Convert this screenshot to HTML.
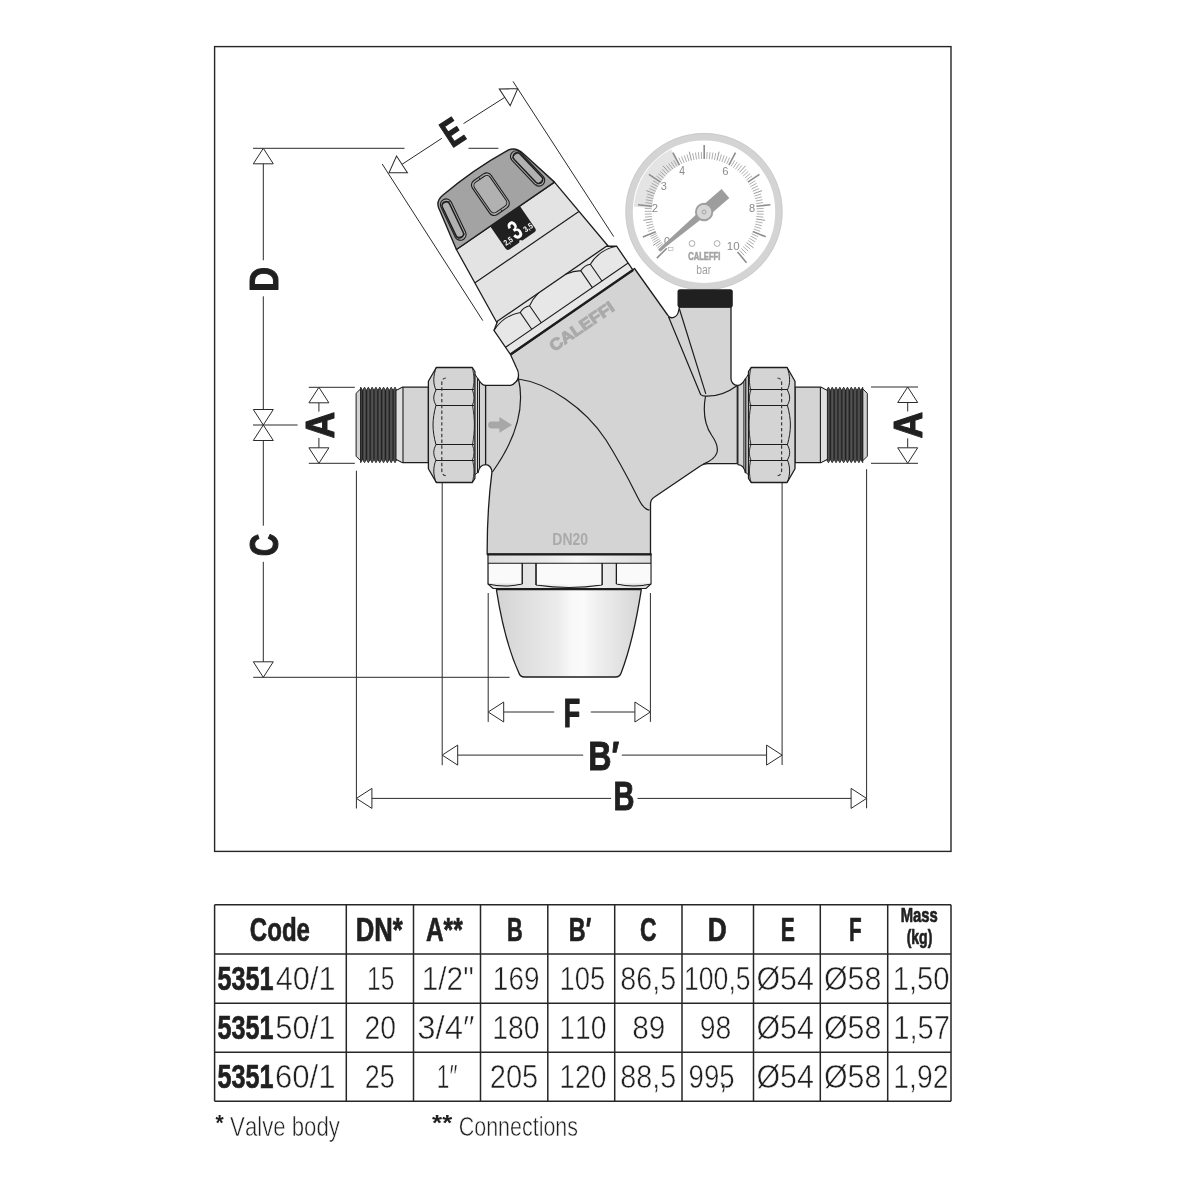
<!DOCTYPE html>
<html><head><meta charset="utf-8"><style>
html,body{margin:0;padding:0;background:#fff;}
svg{display:block;filter:grayscale(100%);font-family:"Liberation Sans",sans-serif;font-kerning:none;}
text{paint-order:fill;}
</style></head><body>
<svg width="1181" height="1181" viewBox="0 0 1181 1181">
<rect width="1181" height="1181" fill="#fff"/>
<rect x="214.6" y="46.6" width="736.4" height="804.8" fill="none" stroke="#262626" stroke-width="1.4"/>
<circle cx="704.0" cy="211.7" r="74.9" fill="#fff" stroke="#d3d4d5" stroke-width="7.4"/>
<circle cx="704.0" cy="211.7" r="78.2" fill="none" stroke="#c4c5c6" stroke-width="0.6"/>
<path d="M633.85,206.81 A70.5,70.5 0 0 1 670.99,149.21 L679.47,165.09 A52.5,52.5 0 0 0 651.81,207.98Z" fill="#e4e4e6"/>
<g stroke="#8c8d8f"><line x1="666.82" y1="248.26" x2="656.85" y2="258.09" stroke-width="1.6"/><line x1="665.44" y1="246.81" x2="660.27" y2="251.53" stroke-width="0.7"/><line x1="664.11" y1="245.30" x2="658.77" y2="249.82" stroke-width="0.7"/><line x1="662.85" y1="243.74" x2="657.33" y2="248.06" stroke-width="0.7"/><line x1="661.64" y1="242.14" x2="655.97" y2="246.24" stroke-width="0.7"/><line x1="660.50" y1="240.49" x2="653.01" y2="245.48" stroke-width="0.9"/><line x1="659.42" y1="238.80" x2="653.45" y2="242.45" stroke-width="0.7"/><line x1="658.40" y1="237.07" x2="652.30" y2="240.49" stroke-width="0.7"/><line x1="657.46" y1="235.30" x2="651.22" y2="238.49" stroke-width="0.7"/><line x1="656.58" y1="233.50" x2="650.23" y2="236.44" stroke-width="0.7"/><line x1="655.77" y1="231.66" x2="642.85" y2="237.06" stroke-width="1.6"/><line x1="654.74" y1="229.00" x2="648.14" y2="231.35" stroke-width="0.7"/><line x1="653.94" y1="226.56" x2="647.23" y2="228.58" stroke-width="0.7"/><line x1="653.25" y1="224.07" x2="646.46" y2="225.76" stroke-width="0.7"/><line x1="652.69" y1="221.56" x2="645.83" y2="222.92" stroke-width="0.7"/><line x1="652.26" y1="219.02" x2="643.35" y2="220.33" stroke-width="0.9"/><line x1="651.95" y1="216.47" x2="644.98" y2="217.14" stroke-width="0.7"/><line x1="651.76" y1="213.90" x2="644.77" y2="214.23" stroke-width="0.7"/><line x1="651.70" y1="211.33" x2="644.70" y2="211.32" stroke-width="0.7"/><line x1="651.77" y1="208.75" x2="644.78" y2="208.40" stroke-width="0.7"/><line x1="651.96" y1="206.19" x2="638.03" y2="204.80" stroke-width="1.6"/><line x1="652.28" y1="203.63" x2="645.36" y2="202.60" stroke-width="0.7"/><line x1="652.72" y1="201.09" x2="645.86" y2="199.72" stroke-width="0.7"/><line x1="653.29" y1="198.58" x2="646.50" y2="196.87" stroke-width="0.7"/><line x1="653.98" y1="196.10" x2="647.28" y2="194.06" stroke-width="0.7"/><line x1="654.79" y1="193.66" x2="646.32" y2="190.62" stroke-width="0.9"/><line x1="655.72" y1="191.26" x2="649.25" y2="188.57" stroke-width="0.7"/><line x1="656.76" y1="188.91" x2="650.44" y2="185.91" stroke-width="0.7"/><line x1="657.92" y1="186.61" x2="651.75" y2="183.30" stroke-width="0.7"/><line x1="659.19" y1="184.37" x2="653.19" y2="180.76" stroke-width="0.7"/><line x1="660.57" y1="182.19" x2="648.94" y2="174.41" stroke-width="1.6"/><line x1="662.06" y1="180.09" x2="656.44" y2="175.92" stroke-width="0.7"/><line x1="663.64" y1="178.06" x2="658.24" y2="173.62" stroke-width="0.7"/><line x1="665.33" y1="176.11" x2="660.14" y2="171.41" stroke-width="0.7"/><line x1="667.10" y1="174.25" x2="662.16" y2="169.30" stroke-width="0.7"/><line x1="668.97" y1="172.48" x2="662.93" y2="165.80" stroke-width="0.9"/><line x1="670.92" y1="170.80" x2="666.48" y2="165.38" stroke-width="0.7"/><line x1="672.95" y1="169.21" x2="668.78" y2="163.59" stroke-width="0.7"/><line x1="675.06" y1="167.73" x2="671.17" y2="161.91" stroke-width="0.7"/><line x1="677.23" y1="166.36" x2="673.64" y2="160.35" stroke-width="0.7"/><line x1="679.47" y1="165.09" x2="672.88" y2="152.74" stroke-width="1.6"/><line x1="681.77" y1="163.93" x2="678.78" y2="157.60" stroke-width="0.7"/><line x1="684.13" y1="162.89" x2="681.45" y2="156.42" stroke-width="0.7"/><line x1="686.53" y1="161.96" x2="684.17" y2="155.37" stroke-width="0.7"/><line x1="688.97" y1="161.16" x2="686.94" y2="154.46" stroke-width="0.7"/><line x1="691.45" y1="160.47" x2="689.27" y2="151.74" stroke-width="0.9"/><line x1="693.97" y1="159.91" x2="692.60" y2="153.04" stroke-width="0.7"/><line x1="696.50" y1="159.47" x2="695.48" y2="152.54" stroke-width="0.7"/><line x1="699.06" y1="159.15" x2="698.37" y2="152.19" stroke-width="0.7"/><line x1="701.63" y1="158.96" x2="701.28" y2="151.97" stroke-width="0.7"/><line x1="704.20" y1="158.90" x2="704.20" y2="144.90" stroke-width="1.6"/><line x1="706.77" y1="158.96" x2="707.12" y2="151.97" stroke-width="0.7"/><line x1="709.34" y1="159.15" x2="710.03" y2="152.19" stroke-width="0.7"/><line x1="711.90" y1="159.47" x2="712.92" y2="152.54" stroke-width="0.7"/><line x1="714.43" y1="159.91" x2="715.80" y2="153.04" stroke-width="0.7"/><line x1="716.95" y1="160.47" x2="719.13" y2="151.74" stroke-width="0.9"/><line x1="719.43" y1="161.16" x2="721.46" y2="154.46" stroke-width="0.7"/><line x1="721.87" y1="161.96" x2="724.23" y2="155.37" stroke-width="0.7"/><line x1="724.27" y1="162.89" x2="726.95" y2="156.42" stroke-width="0.7"/><line x1="726.63" y1="163.93" x2="729.62" y2="157.60" stroke-width="0.7"/><line x1="728.93" y1="165.09" x2="735.52" y2="152.74" stroke-width="1.6"/><line x1="731.17" y1="166.36" x2="734.76" y2="160.35" stroke-width="0.7"/><line x1="733.34" y1="167.73" x2="737.23" y2="161.91" stroke-width="0.7"/><line x1="735.45" y1="169.21" x2="739.62" y2="163.59" stroke-width="0.7"/><line x1="737.48" y1="170.80" x2="741.92" y2="165.38" stroke-width="0.7"/><line x1="739.43" y1="172.48" x2="745.47" y2="165.80" stroke-width="0.9"/><line x1="741.30" y1="174.25" x2="746.24" y2="169.30" stroke-width="0.7"/><line x1="743.07" y1="176.11" x2="748.26" y2="171.41" stroke-width="0.7"/><line x1="744.76" y1="178.06" x2="750.16" y2="173.62" stroke-width="0.7"/><line x1="746.34" y1="180.09" x2="751.96" y2="175.92" stroke-width="0.7"/><line x1="747.83" y1="182.19" x2="759.46" y2="174.41" stroke-width="1.6"/><line x1="749.21" y1="184.37" x2="755.21" y2="180.76" stroke-width="0.7"/><line x1="750.48" y1="186.61" x2="756.65" y2="183.30" stroke-width="0.7"/><line x1="751.64" y1="188.91" x2="757.96" y2="185.91" stroke-width="0.7"/><line x1="752.68" y1="191.26" x2="759.15" y2="188.57" stroke-width="0.7"/><line x1="753.61" y1="193.66" x2="762.08" y2="190.62" stroke-width="0.9"/><line x1="754.42" y1="196.10" x2="761.12" y2="194.06" stroke-width="0.7"/><line x1="755.11" y1="198.58" x2="761.90" y2="196.87" stroke-width="0.7"/><line x1="755.68" y1="201.09" x2="762.54" y2="199.72" stroke-width="0.7"/><line x1="756.12" y1="203.63" x2="763.04" y2="202.60" stroke-width="0.7"/><line x1="756.44" y1="206.19" x2="770.37" y2="204.80" stroke-width="1.6"/><line x1="756.63" y1="208.75" x2="763.62" y2="208.40" stroke-width="0.7"/><line x1="756.70" y1="211.33" x2="763.70" y2="211.32" stroke-width="0.7"/><line x1="756.64" y1="213.90" x2="763.63" y2="214.23" stroke-width="0.7"/><line x1="756.45" y1="216.47" x2="763.42" y2="217.14" stroke-width="0.7"/><line x1="756.14" y1="219.02" x2="765.05" y2="220.33" stroke-width="0.9"/><line x1="755.71" y1="221.56" x2="762.57" y2="222.92" stroke-width="0.7"/><line x1="755.15" y1="224.07" x2="761.94" y2="225.76" stroke-width="0.7"/><line x1="754.46" y1="226.56" x2="761.17" y2="228.58" stroke-width="0.7"/><line x1="753.66" y1="229.00" x2="760.26" y2="231.35" stroke-width="0.7"/><line x1="752.74" y1="231.41" x2="765.68" y2="236.74" stroke-width="1.6"/><line x1="751.70" y1="233.76" x2="758.03" y2="236.74" stroke-width="0.7"/><line x1="750.55" y1="236.06" x2="756.73" y2="239.35" stroke-width="0.7"/><line x1="749.28" y1="238.31" x2="755.29" y2="241.89" stroke-width="0.7"/><line x1="747.91" y1="240.48" x2="753.74" y2="244.36" stroke-width="0.7"/><line x1="746.43" y1="242.59" x2="753.67" y2="247.94" stroke-width="0.9"/><line x1="744.85" y1="244.62" x2="750.27" y2="249.05" stroke-width="0.7"/><line x1="743.17" y1="246.58" x2="748.37" y2="251.27" stroke-width="0.7"/><line x1="741.40" y1="248.45" x2="746.36" y2="253.38" stroke-width="0.7"/><line x1="739.54" y1="250.22" x2="744.25" y2="255.40" stroke-width="0.7"/><line x1="737.59" y1="251.91" x2="746.50" y2="262.71" stroke-width="1.6"/></g>
<text transform="translate(663.98,244.99) scale(0.9392,1)" font-size="11.58" font-weight="normal" fill="#8a8b8d" >0</text>
<text transform="translate(651.83,211.70) scale(0.9719,1)" font-size="11.74" font-weight="normal" fill="#8a8b8d" >2</text>
<text transform="translate(660.68,190.29) scale(0.9470,1)" font-size="11.58" font-weight="normal" fill="#8a8b8d" >3</text>
<text transform="translate(679.16,175.10) scale(0.8658,1)" font-size="11.92" font-weight="normal" fill="#8a8b8d" >4</text>
<text transform="translate(722.33,174.99) scale(0.9730,1)" font-size="11.58" font-weight="normal" fill="#8a8b8d" >6</text>
<text transform="translate(749.12,211.59) scale(0.9568,1)" font-size="11.58" font-weight="normal" fill="#8a8b8d" >8</text>
<text transform="translate(726.77,250.29) scale(0.9959,1)" font-size="11.58" font-weight="normal" fill="#8a8b8d" >10</text>
<circle cx="692" cy="243.5" r="2.9" fill="none" stroke="#8a8b8d" stroke-width="0.7"/>
<circle cx="717.1" cy="243.5" r="2.9" fill="none" stroke="#8a8b8d" stroke-width="0.7"/>
<rect x="668.5" y="247.5" width="4.5" height="3" fill="none" stroke="#9a9b9d" stroke-width="0.5"/>
<text transform="translate(688.19,259.90) scale(0.7611,1)" font-size="10.03" font-weight="bold" fill="#a3a4a6" stroke="#a3a4a6" stroke-width="0.6" stroke-linejoin="round" >CALEFFI</text>
<text transform="translate(696.33,273.58) scale(0.8341,1)" font-size="12.39" font-weight="normal" fill="#a0a1a3" >bar</text>
<path d="M658.1,249.5 L659.9,251.6 L705,216.2 L700.6,210.6 Z" fill="#9c9d9f"/>
<path d="M700,207.8 L721.6,189.1 L729.3,197.9 L708,216.5 Z" fill="#9c9d9f"/>
<circle cx="704.1" cy="212" r="8.2" fill="#d5d6d8" stroke="#9d9ea0" stroke-width="1.9"/>
<circle cx="704.1" cy="212" r="2" fill="none" stroke="#8e8f91" stroke-width="0.7"/>
<path d="M510.7,354.9 L516.6,368 C519.5,373 519,380 515.7,382 C514,384 512.5,385 510.5,385.4 L485.6,385.4 L485.6,464.6 C489,464.6 491.9,467.8 491.9,472.3 C489,495 487,525 487.2,554.4 L650.5,554.4 L650.5,504 C650.5,500 652,498.5 654.5,497 L701,465.5 C703,464 705,463.6 708,463.6 L737.3,463.6 L737.3,385.4 C733.5,385.4 731,382 731,378.5 L731,307 L679.5,307 L678.6,311 C677.5,317.5 670.5,320 667.6,315 L634.5,268.5 Z" fill="#d3d4d6" stroke="#1d1d1d" stroke-width="1.3" stroke-linejoin="round"/>
<path d="M518.3,379 C548,383 585,408 606,440 C616,456 628,478 636,494 C640,502 643.5,509.5 649.5,510.2 M518.3,378 C524,402 521,432 492.4,472 M668.5,316.8 L700.7,394.7 M679.5,309.2 L705.8,393.9 M700.7,394.7 C702,396 704,396.2 706,396.2 C717,396.5 729,391.5 737.3,385.4 M705.6,395.5 C703,410 704,424 711.5,435 C722,450 718,458 703.4,464.1" fill="none" stroke="#1d1d1d" stroke-width="1.2"/>
<path d="M491.5,421.5 L499.4,421.5 L499.4,417.1 L512,424.9 L499.4,432.7 L499.4,428.4 L491.5,428.4 A3.45,3.45 0 0 1 491.5,421.5 Z" fill="#a6a7a9"/>
<text transform="translate(552.37,544.84) scale(0.8310,1)" font-size="16.81" font-weight="bold" fill="#a9aaac" >DN20</text>
<rect x="677.5" y="289.3" width="55.3" height="18.3" rx="2.5" fill="#231f20"/>
<defs><linearGradient id="bowl" x1="496" y1="0" x2="641" y2="0" gradientUnits="userSpaceOnUse"><stop offset="0" stop-color="#d3d3d5"/><stop offset="0.2" stop-color="#dfdfe1"/><stop offset="0.42" stop-color="#ebebec"/><stop offset="0.52" stop-color="#f8f8f8"/><stop offset="0.6" stop-color="#fbfbfb"/><stop offset="0.7" stop-color="#efefef"/><stop offset="0.86" stop-color="#e2e2e4"/><stop offset="1" stop-color="#d5d5d7"/></linearGradient><linearGradient id="nutg" x1="488" y1="0" x2="651" y2="0" gradientUnits="userSpaceOnUse"><stop offset="0" stop-color="#dedee0"/><stop offset="0.3" stop-color="#e6e6e8"/><stop offset="0.55" stop-color="#f7f7f7"/><stop offset="0.75" stop-color="#e8e8ea"/><stop offset="1" stop-color="#dcdcde"/></linearGradient></defs>
<path d="M496.4,589.6 L641.3,589.6 Q633.3,641 621.3,672.5 Q620,677 615.5,677 L524.5,677 Q520,677 518.7,672.5 Q504.4,641 496.4,589.6 Z" fill="url(#bowl)" stroke="#1d1d1d" stroke-width="1.3" stroke-linejoin="round"/>
<path d="M488,554.4 L651,554.4 L651,584 L646,588.5 L493,588.5 L488,584 Z" fill="url(#nutg)" stroke="#1d1d1d" stroke-width="1.2"/>
<path d="M488,563.2 H651 M522.2,563.2 V584 M536,563.2 V585 M602.1,563.2 V585 M616.4,563.2 V584 M488,584 Q505,588 522.2,584 M536,585 Q569,590 602.1,585 M616.4,584 Q634,588 651,584" fill="none" stroke="#1d1d1d" stroke-width="1.1"/>
<rect x="489" y="564" width="32.5" height="19.5" fill="#fafafa"/><rect x="537" y="564" width="64.5" height="20.5" fill="#fafafa"/><rect x="617.2" y="564" width="33" height="19.5" fill="#fafafa"/>
<path d="M522.2,563.2 V584 M536,563.2 V585 M602.1,563.2 V585 M616.4,563.2 V584" fill="none" stroke="#1d1d1d" stroke-width="1.1"/>
<line x1="487.2" y1="554.4" x2="651.6" y2="554.4" stroke="#1d1d1d" stroke-width="2.2"/>
<path d="M356.1,393.3 L360.7,388.8 L360.7,460.8 L356.1,456.2 Z" fill="#d2d2d4" stroke="#1d1d1d" stroke-width="1"/><path d="M360.7,390.6 L360.70,387.2 L362.60,390.6 L364.51,387.2 L366.41,390.6 L368.32,387.2 L370.22,390.6 L372.13,387.2 L374.03,390.6 L375.94,387.2 L377.84,390.6 L379.75,387.2 L381.65,390.6 L383.56,387.2 L385.46,390.6 L387.37,387.2 L389.27,390.6 L391.18,387.2 L393.08,390.6 L394.99,387.2 L396.89,390.6 L396.2,390.6 L396.2,459.3 L396.89,459.3 L394.99,462.7 L393.08,459.3 L391.18,462.7 L389.27,459.3 L387.37,462.7 L385.46,459.3 L383.56,462.7 L381.65,459.3 L379.75,462.7 L377.84,459.3 L375.94,462.7 L374.03,459.3 L372.13,462.7 L370.22,459.3 L368.32,462.7 L366.41,459.3 L364.51,462.7 L362.60,459.3 L360.70,462.7 L360.7,459.3 Z" fill="#444446" stroke="#1d1d1d" stroke-width="0.9" stroke-linejoin="round"/><path d="M362.60,390.6V459.3M366.41,390.6V459.3M370.22,390.6V459.3M374.03,390.6V459.3M377.84,390.6V459.3M381.65,390.6V459.3M385.46,390.6V459.3M389.27,390.6V459.3M393.08,390.6V459.3M396.89,390.6V459.3" stroke="#1f1f20" stroke-width="1"/><path d="M364.51,388V462M368.32,388V462M372.13,388V462M375.94,388V462M379.75,388V462M383.56,388V462M387.37,388V462M391.18,388V462M394.99,388V462" stroke="#5a5a5c" stroke-width="0.8"/><path d="M396.2,390.6 L402.6,387.2 L428.4,387.2 L428.4,462.7 L402.6,462.7 L396.2,459.3 Z" fill="#d3d4d6" stroke="#1d1d1d" stroke-width="1.2"/><path d="M396.6,390.8 L402.6,387.8 L402.6,462 L396.6,459 Z" fill="#dfdfe1"/><line x1="403" y1="387.2" x2="403" y2="462.7" stroke="#1d1d1d" stroke-width="1.1"/><path d="M477.5,378.2 C479.5,380.5 481,385.2 485.5,385.4 L485.5,464.6 C481.8,464.8 478.9,468 478.2,472.6 L477.5,472.6 Z" fill="#d3d4d6" stroke="#1d1d1d" stroke-width="1.1" stroke-linejoin="round"/><path d="M474.5,373.5 L477.5,378.2 L477.5,472.6 L474.5,475 Z" fill="#d6d7d9" stroke="#1d1d1d" stroke-width="1"/><line x1="479.5" y1="381.5" x2="479.5" y2="468.5" stroke="#1d1d1d" stroke-width="1"/><path d="M428.4,381.2 L436.3,367.5 L472.3,367.5 L474.9,371.5 L474.9,478.3 L472.3,482.5 L436.3,482.5 L428.4,468.8 Z" fill="#d3d4d6" stroke="#1d1d1d" stroke-width="1.3" stroke-linejoin="round"/><path d="M436,389.5 H474 M436,405.5 H474 M436,444.5 H474 M436,460.5 H474" stroke="#1d1d1d" stroke-width="1.1"/><path d="M436.3,367.2 C433,376 433,384 436,390 C433,396 433,400 436,405.2 C432,420 432,430 436,444.8 C433,450 433,455 436,460 C433,467 433,475 436.3,482.6" fill="none" stroke="#1d1d1d" stroke-width="1"/><path d="M472.3,367.5 C474.5,376 474.5,384 472.5,390 C474.5,396 474.5,400 472.5,405.2 C475,420 475,430 472.5,444.8 C474.5,450 474.5,455 472.5,460 C474.5,467 474.5,475 472.3,482.3" fill="none" stroke="#1d1d1d" stroke-width="0.9"/><path d="M446,378 C443,378 441.8,380 441.8,383 L441.8,470.5 C441.8,473.5 443,475.5 446,475.8" fill="none" stroke="#3a3a3c" stroke-width="1.2" stroke-dasharray="3.4,2.4"/>
<g transform="translate(1223.4,0) scale(-1,1)"><path d="M356.1,393.3 L360.7,388.8 L360.7,460.8 L356.1,456.2 Z" fill="#d2d2d4" stroke="#1d1d1d" stroke-width="1"/><path d="M360.7,390.6 L360.70,387.2 L362.60,390.6 L364.51,387.2 L366.41,390.6 L368.32,387.2 L370.22,390.6 L372.13,387.2 L374.03,390.6 L375.94,387.2 L377.84,390.6 L379.75,387.2 L381.65,390.6 L383.56,387.2 L385.46,390.6 L387.37,387.2 L389.27,390.6 L391.18,387.2 L393.08,390.6 L394.99,387.2 L396.89,390.6 L396.2,390.6 L396.2,459.3 L396.89,459.3 L394.99,462.7 L393.08,459.3 L391.18,462.7 L389.27,459.3 L387.37,462.7 L385.46,459.3 L383.56,462.7 L381.65,459.3 L379.75,462.7 L377.84,459.3 L375.94,462.7 L374.03,459.3 L372.13,462.7 L370.22,459.3 L368.32,462.7 L366.41,459.3 L364.51,462.7 L362.60,459.3 L360.70,462.7 L360.7,459.3 Z" fill="#444446" stroke="#1d1d1d" stroke-width="0.9" stroke-linejoin="round"/><path d="M362.60,390.6V459.3M366.41,390.6V459.3M370.22,390.6V459.3M374.03,390.6V459.3M377.84,390.6V459.3M381.65,390.6V459.3M385.46,390.6V459.3M389.27,390.6V459.3M393.08,390.6V459.3M396.89,390.6V459.3" stroke="#1f1f20" stroke-width="1"/><path d="M364.51,388V462M368.32,388V462M372.13,388V462M375.94,388V462M379.75,388V462M383.56,388V462M387.37,388V462M391.18,388V462M394.99,388V462" stroke="#5a5a5c" stroke-width="0.8"/><path d="M396.2,390.6 L402.6,387.2 L428.4,387.2 L428.4,462.7 L402.6,462.7 L396.2,459.3 Z" fill="#d3d4d6" stroke="#1d1d1d" stroke-width="1.2"/><path d="M396.6,390.8 L402.6,387.8 L402.6,462 L396.6,459 Z" fill="#dfdfe1"/><line x1="403" y1="387.2" x2="403" y2="462.7" stroke="#1d1d1d" stroke-width="1.1"/><path d="M477.5,378.2 C479.5,380.5 481,385.2 485.5,385.4 L485.5,464.6 C481.8,464.8 478.9,468 478.2,472.6 L477.5,472.6 Z" fill="#d3d4d6" stroke="#1d1d1d" stroke-width="1.1" stroke-linejoin="round"/><path d="M474.5,373.5 L477.5,378.2 L477.5,472.6 L474.5,475 Z" fill="#d6d7d9" stroke="#1d1d1d" stroke-width="1"/><line x1="479.5" y1="381.5" x2="479.5" y2="468.5" stroke="#1d1d1d" stroke-width="1"/><path d="M428.4,381.2 L436.3,367.5 L472.3,367.5 L474.9,371.5 L474.9,478.3 L472.3,482.5 L436.3,482.5 L428.4,468.8 Z" fill="#d3d4d6" stroke="#1d1d1d" stroke-width="1.3" stroke-linejoin="round"/><path d="M436,389.5 H474 M436,405.5 H474 M436,444.5 H474 M436,460.5 H474" stroke="#1d1d1d" stroke-width="1.1"/><path d="M436.3,367.2 C433,376 433,384 436,390 C433,396 433,400 436,405.2 C432,420 432,430 436,444.8 C433,450 433,455 436,460 C433,467 433,475 436.3,482.6" fill="none" stroke="#1d1d1d" stroke-width="1"/><path d="M472.3,367.5 C474.5,376 474.5,384 472.5,390 C474.5,396 474.5,400 472.5,405.2 C475,420 475,430 472.5,444.8 C474.5,450 474.5,455 472.5,460 C474.5,467 474.5,475 472.3,482.3" fill="none" stroke="#1d1d1d" stroke-width="0.9"/><path d="M446,378 C443,378 441.8,380 441.8,383 L441.8,470.5 C441.8,473.5 443,475.5 446,475.8" fill="none" stroke="#3a3a3c" stroke-width="1.2" stroke-dasharray="3.4,2.4"/></g>
<g transform="translate(571.7,312.25) rotate(-34.5)"><path d="M-59.5,-117 L59.5,-117 L67.5,-34 L-67.5,-34 Z" fill="#e3e3e5" stroke="#1d1d1d" stroke-width="1.3" stroke-linejoin="round"/><line x1="-63" y1="-79" x2="63" y2="-79" stroke="#1d1d1d" stroke-width="1.2"/><path d="M-59.5,-117 L-51,-159 Q-50,-168.5 -40,-169.5 Q0,-173.5 38,-169.8 Q47.5,-169 50,-158 L59.5,-117 Z" fill="#a2a3a6" stroke="#1d1d1d" stroke-width="1.4" stroke-linejoin="round"/><g transform="translate(-45.10,-143.50) rotate(9.04)"><rect x="-5.75" y="-22.276669409945463" width="11.5" height="44.553338819890925" rx="5.75" fill="#a9aaad" stroke="#1d1d1d" stroke-width="1.1"/><rect x="-4.45" y="-19.67666940994546" width="7.9" height="39.35333881989092" rx="3.95" fill="#b0b1b4" stroke="#1d1d1d" stroke-width="1.5"/><path d="M-4.75,-17.776669409945463 Q0,-20.076669409945463 4.75,-17.776669409945463 M-4.75,17.776669409945463 Q0,20.076669409945463 4.75,17.776669409945463" fill="none" stroke="#1d1d1d" stroke-width="0.7"/></g><g transform="translate(45.10,-143.50) rotate(-9.04)"><rect x="-5.75" y="-22.276669409945463" width="11.5" height="44.553338819890925" rx="5.75" fill="#a9aaad" stroke="#1d1d1d" stroke-width="1.1"/><rect x="-3.45" y="-19.67666940994546" width="7.9" height="39.35333881989092" rx="3.95" fill="#b0b1b4" stroke="#1d1d1d" stroke-width="1.5"/><path d="M-4.75,-17.776669409945463 Q0,-20.076669409945463 4.75,-17.776669409945463 M-4.75,17.776669409945463 Q0,20.076669409945463 4.75,17.776669409945463" fill="none" stroke="#1d1d1d" stroke-width="0.7"/></g><rect x="-11.5" y="-164" width="22.7" height="41.3" rx="5.5" fill="#a9aaad" stroke="#1d1d1d" stroke-width="1.1"/><rect x="-9.6" y="-161.5" width="18.9" height="36.3" rx="4.2" fill="#b0b1b4" stroke="#1d1d1d" stroke-width="1.0"/><path d="M-0.2,-164 V-161.5 M-0.2,-125.2 V-122.7" stroke="#1d1d1d" stroke-width="0.8"/><path d="M-18.5,-117 L17.5,-117 L17.5,-90 Q17.5,-87 14.5,-87 L0,-87 L-2,-89 L-4,-87 L-15.5,-87 Q-18.5,-87 -18.5,-90 Z" fill="#231f20"/><text transform="translate(-5.63,-90.80) scale(0.7061,1)" font-size="26.78" font-weight="bold" fill="#fff" >3</text><text transform="translate(-16.74,-91.77) scale(0.8261,1)" font-size="8.21" font-weight="bold" fill="#fff" >2,5</text><text transform="translate(7.35,-91.77) scale(0.8189,1)" font-size="8.21" font-weight="bold" fill="#fff" >3,5</text><path d="M-66,-34.7 L66,-34.7 L74.4,-29 L74.4,0 L-74.4,0 L-74.4,-29 Z" fill="#e7e7e9" stroke="#1d1d1d" stroke-width="1.3" stroke-linejoin="round"/><path d="M-74.4,-8.6 H74.4 M-74.4,-29 Q-58.5,-36 -42.6,-29 V-8.6 M-31,-8.6 V-29.2 Q-25,-33 -16.4,-34.7 M16.4,-34.7 Q25,-33 31,-29.2 V-8.6 M42.6,-8.6 V-29 Q58.5,-36 74.4,-29 M-42.6,-29 Q-37,-31.5 -31,-29.2 M31,-29.2 Q37,-31.5 42.6,-29" fill="none" stroke="#1d1d1d" stroke-width="1.1"/><line x1="-74.4" y1="0" x2="74.4" y2="0" stroke="#1d1d1d" stroke-width="2.4"/></g>
<g transform="translate(581.50,326.50) rotate(-34.5)"><text transform="translate(-37.23,5.50) scale(1.1099,1)" font-size="15.99" font-weight="bold" fill="#a9aaac" stroke="#a9aaac" stroke-width="1.0" stroke-linejoin="round">CALEFFI</text></g>
<path d="M263.3,148.3 V260.3 M263.3,296.3 V425 V525.7 M263.3,561.8 V677.3 M253,148.3 H404.5 M468.5,148.3 H498.4 M253,425 H297.6 M253.2,677.3 H509.6 M318.9,402.8 V411.6 M318.9,438 V448.2 M308.8,387.3 H354.8 M308.8,463.3 H354.8 M907.7,402.8 V411.4 M907.7,438.4 V447.7 M871,387 H918 M871,463.3 H918 M356.4,470.7 V808.5 M866.6,469.2 V808.3 M442.2,482.6 V765.2 M782.1,482.6 V765 M488.2,593 V721.9 M650.4,593 V721.9 M503.6,712 H554.2 M590.8,712 H634.9 M457.6,755.1 H583.2 M621.8,755.1 H766.6 M371.9,798.4 H611.1 M637.5,798.4 H851.1 M382.2,164 L482.8,320.6 M513,81.4 L613.7,236.6 M401,165 L441.8,138.3 M463.5,123.6 L505.3,97" fill="none" stroke="#2b2b2b" stroke-width="1"/>
<path d="M263.3,148.3 L253.3,163.8 L273.3,163.8Z" fill="#fff" stroke="#2b2b2b" stroke-width="1"/><path d="M263.3,425.0 L253.3,409.5 L273.3,409.5Z" fill="#fff" stroke="#2b2b2b" stroke-width="1"/><path d="M263.3,425.0 L253.3,440.5 L273.3,440.5Z" fill="#fff" stroke="#2b2b2b" stroke-width="1"/><path d="M263.3,677.3 L253.3,661.8 L273.3,661.8Z" fill="#fff" stroke="#2b2b2b" stroke-width="1"/><path d="M318.9,387.3 L308.9,402.8 L328.9,402.8Z" fill="#fff" stroke="#2b2b2b" stroke-width="1"/><path d="M318.9,463.3 L308.9,447.8 L328.9,447.8Z" fill="#fff" stroke="#2b2b2b" stroke-width="1"/><path d="M907.7,387.0 L897.7,402.5 L917.7,402.5Z" fill="#fff" stroke="#2b2b2b" stroke-width="1"/><path d="M907.7,463.3 L897.7,447.8 L917.7,447.8Z" fill="#fff" stroke="#2b2b2b" stroke-width="1"/><path d="M488.2,712.0 L503.7,702.0 L503.7,722.0Z" fill="#fff" stroke="#2b2b2b" stroke-width="1"/><path d="M650.4,712.0 L634.9,702.0 L634.9,722.0Z" fill="#fff" stroke="#2b2b2b" stroke-width="1"/><path d="M442.2,755.1 L457.7,745.1 L457.7,765.1Z" fill="#fff" stroke="#2b2b2b" stroke-width="1"/><path d="M782.1,755.1 L766.6,745.1 L766.6,765.1Z" fill="#fff" stroke="#2b2b2b" stroke-width="1"/><path d="M356.4,798.4 L371.9,788.4 L371.9,808.4Z" fill="#fff" stroke="#2b2b2b" stroke-width="1"/><path d="M866.6,798.4 L851.1,788.4 L851.1,808.4Z" fill="#fff" stroke="#2b2b2b" stroke-width="1"/>
<g transform="translate(517.7,88.8) rotate(-33.1)"><path d="M0,0 L-15.5,-10 L-15.5,10 Z" fill="#fff" stroke="#2b2b2b" stroke-width="1"/></g>
<g transform="translate(389,172.8) rotate(146.9)"><path d="M0,0 L-15.5,-10 L-15.5,10 Z" fill="#fff" stroke="#2b2b2b" stroke-width="1"/></g>
<g transform="translate(264.20,279.00) rotate(-90)"><text transform="translate(-12.79,14.00) scale(0.8414,1)" font-size="40.70" font-weight="bold" fill="#231f20" stroke="#231f20" stroke-width="1.0" stroke-linejoin="round">D</text></g>
<g transform="translate(264.00,544.60) rotate(-90)"><text transform="translate(-11.54,14.00) scale(0.7704,1)" font-size="40.70" font-weight="bold" fill="#231f20" stroke="#231f20" stroke-width="1.0" stroke-linejoin="round">C</text></g>
<g transform="translate(319.50,425.10) rotate(-90)"><text transform="translate(-13.32,14.00) scale(0.9083,1)" font-size="40.70" font-weight="bold" fill="#231f20" stroke="#231f20" stroke-width="1.0" stroke-linejoin="round">A</text></g>
<g transform="translate(908.20,425.20) rotate(-90)"><text transform="translate(-13.32,14.00) scale(0.9083,1)" font-size="40.70" font-weight="bold" fill="#231f20" stroke="#231f20" stroke-width="1.0" stroke-linejoin="round">A</text></g>
<g transform="translate(452.80,132.00) rotate(-33.1)"><text transform="translate(-9.54,13.30) scale(0.7100,1)" font-size="38.66" font-weight="bold" fill="#231f20" stroke="#231f20" stroke-width="1.2" stroke-linejoin="round">E</text></g>
<text transform="translate(563.57,726.80) scale(0.6805,1)" font-size="40.26" font-weight="bold" fill="#231f20" stroke="#231f20" stroke-width="1.0" stroke-linejoin="round" >F</text>
<text transform="translate(588.35,769.90) scale(0.7897,1)" font-size="40.70" font-weight="bold" fill="#231f20" stroke="#231f20" stroke-width="1.0" stroke-linejoin="round" >B′</text>
<text transform="translate(613.46,810.30) scale(0.7287,1)" font-size="39.83" font-weight="bold" fill="#231f20" stroke="#231f20" stroke-width="1.0" stroke-linejoin="round" >B</text>
<path d="M214.6,904.8V1101.2M346.3,904.8V1101.2M413.5,904.8V1101.2M480.5,904.8V1101.2M547.8,904.8V1101.2M614.7,904.8V1101.2M682.0,904.8V1101.2M753.5,904.8V1101.2M820.3,904.8V1101.2M887.7,904.8V1101.2M951.0,904.8V1101.2M214.6,904.8H951.0M214.6,954.0H951.0M214.6,1003.2H951.0M214.6,1052.2H951.0M214.6,1101.2H951.0" stroke="#262626" stroke-width="1.5" fill="none"/>
<text transform="translate(249.86,940.85) scale(0.7352,1)" font-size="32.70" font-weight="bold" fill="#231f20"  stroke="#231f20" stroke-width="0.7" stroke-linejoin="round">Code</text>
<text transform="translate(355.63,940.85) scale(0.7845,1)" font-size="32.70" font-weight="bold" fill="#231f20"  stroke="#231f20" stroke-width="0.7" stroke-linejoin="round">DN*</text>
<text transform="translate(425.94,940.85) scale(0.7486,1)" font-size="32.70" font-weight="bold" fill="#231f20"  stroke="#231f20" stroke-width="0.7" stroke-linejoin="round">A**</text>
<text transform="translate(506.89,940.85) scale(0.6668,1)" font-size="32.70" font-weight="bold" fill="#231f20"  stroke="#231f20" stroke-width="0.7" stroke-linejoin="round">B</text>
<text transform="translate(568.79,940.85) scale(0.7144,1)" font-size="32.70" font-weight="bold" fill="#231f20"  stroke="#231f20" stroke-width="0.7" stroke-linejoin="round">B′</text>
<text transform="translate(639.91,940.85) scale(0.7015,1)" font-size="32.70" font-weight="bold" fill="#231f20"  stroke="#231f20" stroke-width="0.7" stroke-linejoin="round">C</text>
<text transform="translate(707.79,940.85) scale(0.8027,1)" font-size="32.70" font-weight="bold" fill="#231f20"  stroke="#231f20" stroke-width="0.7" stroke-linejoin="round">D</text>
<text transform="translate(780.73,940.85) scale(0.6486,1)" font-size="32.70" font-weight="bold" fill="#231f20"  stroke="#231f20" stroke-width="0.7" stroke-linejoin="round">E</text>
<text transform="translate(848.97,940.85) scale(0.6329,1)" font-size="32.70" font-weight="bold" fill="#231f20"  stroke="#231f20" stroke-width="0.7" stroke-linejoin="round">F</text>
<text transform="translate(900.66,922.45) scale(0.7394,1)" font-size="20.06" font-weight="bold" fill="#231f20"  stroke="#231f20" stroke-width="0.7" stroke-linejoin="round">Mass</text>
<text transform="translate(906.65,944.15) scale(0.6989,1)" font-size="20.06" font-weight="bold" fill="#231f20"  stroke="#231f20" stroke-width="0.7" stroke-linejoin="round">(kg)</text>
<text transform="translate(217.58,989.85) scale(0.7763,1)" font-size="32.41" font-weight="bold" fill="#231f20"  stroke="#231f20" stroke-width="0.7" stroke-linejoin="round">5351</text>
<text transform="translate(275.80,990.20) scale(0.9176,1)" font-size="33.43" font-weight="normal" fill="#231f20" stroke="#ffffff" stroke-width="0.55">40/1</text>
<text transform="translate(217.58,1038.85) scale(0.7763,1)" font-size="32.41" font-weight="bold" fill="#231f20"  stroke="#231f20" stroke-width="0.7" stroke-linejoin="round">5351</text>
<text transform="translate(275.26,1039.20) scale(0.9260,1)" font-size="33.43" font-weight="normal" fill="#231f20" stroke="#ffffff" stroke-width="0.55">50/1</text>
<text transform="translate(217.58,1087.85) scale(0.7763,1)" font-size="32.41" font-weight="bold" fill="#231f20"  stroke="#231f20" stroke-width="0.7" stroke-linejoin="round">5351</text>
<text transform="translate(274.92,1088.20) scale(0.9314,1)" font-size="33.43" font-weight="normal" fill="#231f20" stroke="#ffffff" stroke-width="0.55">60/1</text>
<text transform="translate(367.12,990.20) scale(0.7372,1)" font-size="33.43" font-weight="normal" fill="#231f20" stroke="#ffffff" stroke-width="0.55">15</text>
<text transform="translate(421.73,990.20) scale(0.8920,1)" font-size="33.43" font-weight="normal" fill="#231f20" stroke="#ffffff" stroke-width="0.55">1/2"</text>
<text transform="translate(492.87,990.20) scale(0.8364,1)" font-size="33.43" font-weight="normal" fill="#231f20" stroke="#ffffff" stroke-width="0.55">169</text>
<text transform="translate(559.41,990.20) scale(0.8200,1)" font-size="33.43" font-weight="normal" fill="#231f20" stroke="#ffffff" stroke-width="0.55">105</text>
<text transform="translate(620.25,990.20) scale(0.8600,1)" font-size="33.43" font-weight="normal" fill="#231f20" stroke="#ffffff" stroke-width="0.55">86,5</text>
<text transform="translate(683.97,990.20) scale(0.7967,1)" font-size="33.43" font-weight="normal" fill="#231f20" stroke="#ffffff" stroke-width="0.55">100,5</text>
<text transform="translate(756.45,990.20) scale(0.9091,1)" font-size="33.43" font-weight="normal" fill="#231f20" stroke="#ffffff" stroke-width="0.55">Ø54</text>
<text transform="translate(823.95,990.20) scale(0.9080,1)" font-size="33.43" font-weight="normal" fill="#231f20" stroke="#ffffff" stroke-width="0.55">Ø58</text>
<text transform="translate(892.77,990.20) scale(0.8740,1)" font-size="33.43" font-weight="normal" fill="#231f20" stroke="#ffffff" stroke-width="0.55">1,50</text>
<text transform="translate(364.57,1039.20) scale(0.8480,1)" font-size="33.43" font-weight="normal" fill="#231f20" stroke="#ffffff" stroke-width="0.55">20</text>
<text transform="translate(417.25,1039.20) scale(0.9838,1)" font-size="33.43" font-weight="normal" fill="#231f20" stroke="#ffffff" stroke-width="0.55">3/4″</text>
<text transform="translate(492.34,1039.20) scale(0.8474,1)" font-size="33.43" font-weight="normal" fill="#231f20" stroke="#ffffff" stroke-width="0.55">180</text>
<text transform="translate(559.34,1039.20) scale(0.8474,1)" font-size="33.43" font-weight="normal" fill="#231f20" stroke="#ffffff" stroke-width="0.55">110</text>
<text transform="translate(632.20,1039.20) scale(0.8932,1)" font-size="33.43" font-weight="normal" fill="#231f20" stroke="#ffffff" stroke-width="0.55">89</text>
<text transform="translate(699.67,1039.20) scale(0.8488,1)" font-size="33.43" font-weight="normal" fill="#231f20" stroke="#ffffff" stroke-width="0.55">98</text>
<text transform="translate(756.45,1039.20) scale(0.9091,1)" font-size="33.43" font-weight="normal" fill="#231f20" stroke="#ffffff" stroke-width="0.55">Ø54</text>
<text transform="translate(823.95,1039.20) scale(0.9080,1)" font-size="33.43" font-weight="normal" fill="#231f20" stroke="#ffffff" stroke-width="0.55">Ø58</text>
<text transform="translate(893.28,1039.20) scale(0.8712,1)" font-size="33.43" font-weight="normal" fill="#231f20" stroke="#ffffff" stroke-width="0.55">1,57</text>
<text transform="translate(364.64,1088.20) scale(0.8065,1)" font-size="33.43" font-weight="normal" fill="#231f20" stroke="#ffffff" stroke-width="0.55">25</text>
<text transform="translate(436.77,1088.20) scale(0.6786,1)" font-size="33.43" font-weight="normal" fill="#231f20" stroke="#ffffff" stroke-width="0.55">1″</text>
<text transform="translate(489.74,1088.20) scale(0.8692,1)" font-size="33.43" font-weight="normal" fill="#231f20" stroke="#ffffff" stroke-width="0.55">205</text>
<text transform="translate(559.34,1088.20) scale(0.8474,1)" font-size="33.43" font-weight="normal" fill="#231f20" stroke="#ffffff" stroke-width="0.55">120</text>
<text transform="translate(620.25,1088.20) scale(0.8600,1)" font-size="33.43" font-weight="normal" fill="#231f20" stroke="#ffffff" stroke-width="0.55">88,5</text>
<text transform="translate(688.50,1088.20) scale(0.8276,1)" font-size="33.43" font-weight="normal" fill="#231f20" stroke="#ffffff" stroke-width="0.55">995</text>
<text transform="translate(756.45,1088.20) scale(0.9091,1)" font-size="33.43" font-weight="normal" fill="#231f20" stroke="#ffffff" stroke-width="0.55">Ø54</text>
<text transform="translate(823.95,1088.20) scale(0.9080,1)" font-size="33.43" font-weight="normal" fill="#231f20" stroke="#ffffff" stroke-width="0.55">Ø58</text>
<text transform="translate(893.34,1088.20) scale(0.8465,1)" font-size="33.43" font-weight="normal" fill="#231f20" stroke="#ffffff" stroke-width="0.55">1,92</text>
<text transform="translate(718.67,1087.87) scale(0.9009,1)" font-size="36.19" font-weight="normal" fill="#231f20" stroke="#ffffff" stroke-width="0.55">,</text>
<text transform="translate(215.54,1130.12) scale(0.9203,1)" font-size="22.85" font-weight="bold" fill="#231f20" >*</text>
<text transform="translate(432.12,1130.12) scale(1.1305,1)" font-size="22.85" font-weight="bold" fill="#231f20" >**</text>
<text transform="translate(230.10,1136.00) scale(0.7826,1)" font-size="28.34" font-weight="normal" fill="#231f20" stroke="#ffffff" stroke-width="0.55">Valve body</text>
<text transform="translate(458.71,1136.00) scale(0.7576,1)" font-size="28.34" font-weight="normal" fill="#231f20" stroke="#ffffff" stroke-width="0.55">Connections</text>
</svg></body></html>
